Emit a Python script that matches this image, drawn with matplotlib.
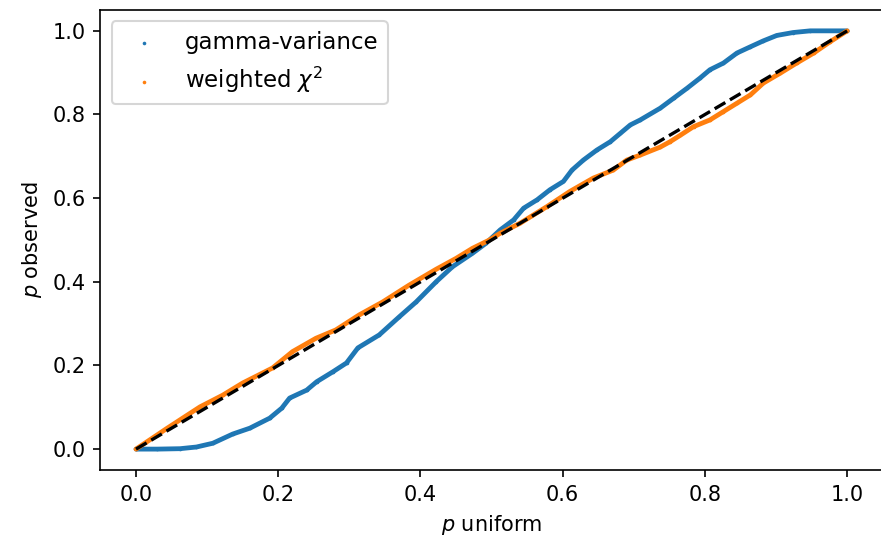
import matplotlib
matplotlib.use("Agg")
import matplotlib.pyplot as plt
import numpy as np

# values (p uniform, p observed)
gamma_x = [0.000, 0.030, 0.062, 0.085, 0.108, 0.136, 0.160, 0.188, 0.205, 0.216,
           0.240, 0.254, 0.277, 0.296, 0.312, 0.342, 0.370, 0.394, 0.422, 0.445,
           0.473, 0.492, 0.512, 0.531, 0.545, 0.564, 0.582, 0.601, 0.613, 0.629,
           0.648, 0.667, 0.681, 0.695, 0.709, 0.737, 0.756, 0.775, 0.793, 0.807,
           0.826, 0.845, 0.864, 0.882, 0.901, 0.924, 0.948, 1.000]
gamma_y = [0.000, 0.000, 0.001, 0.005, 0.014, 0.036, 0.050, 0.074, 0.098, 0.122,
           0.141, 0.161, 0.185, 0.206, 0.242, 0.273, 0.316, 0.352, 0.400, 0.436,
           0.468, 0.492, 0.524, 0.548, 0.576, 0.596, 0.620, 0.640, 0.667, 0.691,
           0.715, 0.735, 0.755, 0.775, 0.787, 0.815, 0.839, 0.863, 0.887, 0.907,
           0.923, 0.947, 0.962, 0.976, 0.989, 0.996, 1.000, 1.000]

chi2_x = [0.000, 0.043, 0.071, 0.090, 0.122, 0.150, 0.192, 0.220, 0.253, 0.281,
          0.314, 0.347, 0.384, 0.422, 0.450, 0.473, 0.497, 0.512, 0.540, 0.578,
          0.610, 0.643, 0.671, 0.690, 0.709, 0.737, 0.751, 0.765, 0.784, 0.807,
          0.826, 0.845, 0.864, 0.882, 0.906, 0.929, 0.953, 0.976, 1.000]
chi2_y = [0.000, 0.049, 0.080, 0.101, 0.129, 0.158, 0.194, 0.233, 0.265, 0.285,
          0.321, 0.352, 0.392, 0.430, 0.456, 0.480, 0.500, 0.516, 0.540, 0.580,
          0.616, 0.648, 0.667, 0.691, 0.703, 0.722, 0.735, 0.750, 0.771, 0.787,
          0.807, 0.827, 0.847, 0.875, 0.899, 0.923, 0.947, 0.974, 1.000]

diag = [0.0, 1.0]

fig = plt.figure(figsize=(881 / 150, 540 / 150), dpi=150)
ax = fig.add_axes([0.114, 0.1296, 0.888, 0.852])

ax.plot(gamma_x, gamma_y, color="C0", linewidth=2.3, solid_capstyle="round")
ax.scatter(gamma_x, gamma_y, s=3, color="C0", linewidths=0, label="gamma-variance")
ax.plot(chi2_x, chi2_y, color="C1", linewidth=2.3, solid_capstyle="round")
ax.scatter(chi2_x, chi2_y, s=3, color="C1", linewidths=0, label=r"weighted $\chi^2$")
ax.plot(diag, diag, "k--", linewidth=1.6)

ax.set_xlabel(r"$p$ uniform")
ax.set_ylabel(r"$p$ observed")
ax.legend(loc="upper left", fontsize=11)

fig.savefig("out.png", dpi=150)
